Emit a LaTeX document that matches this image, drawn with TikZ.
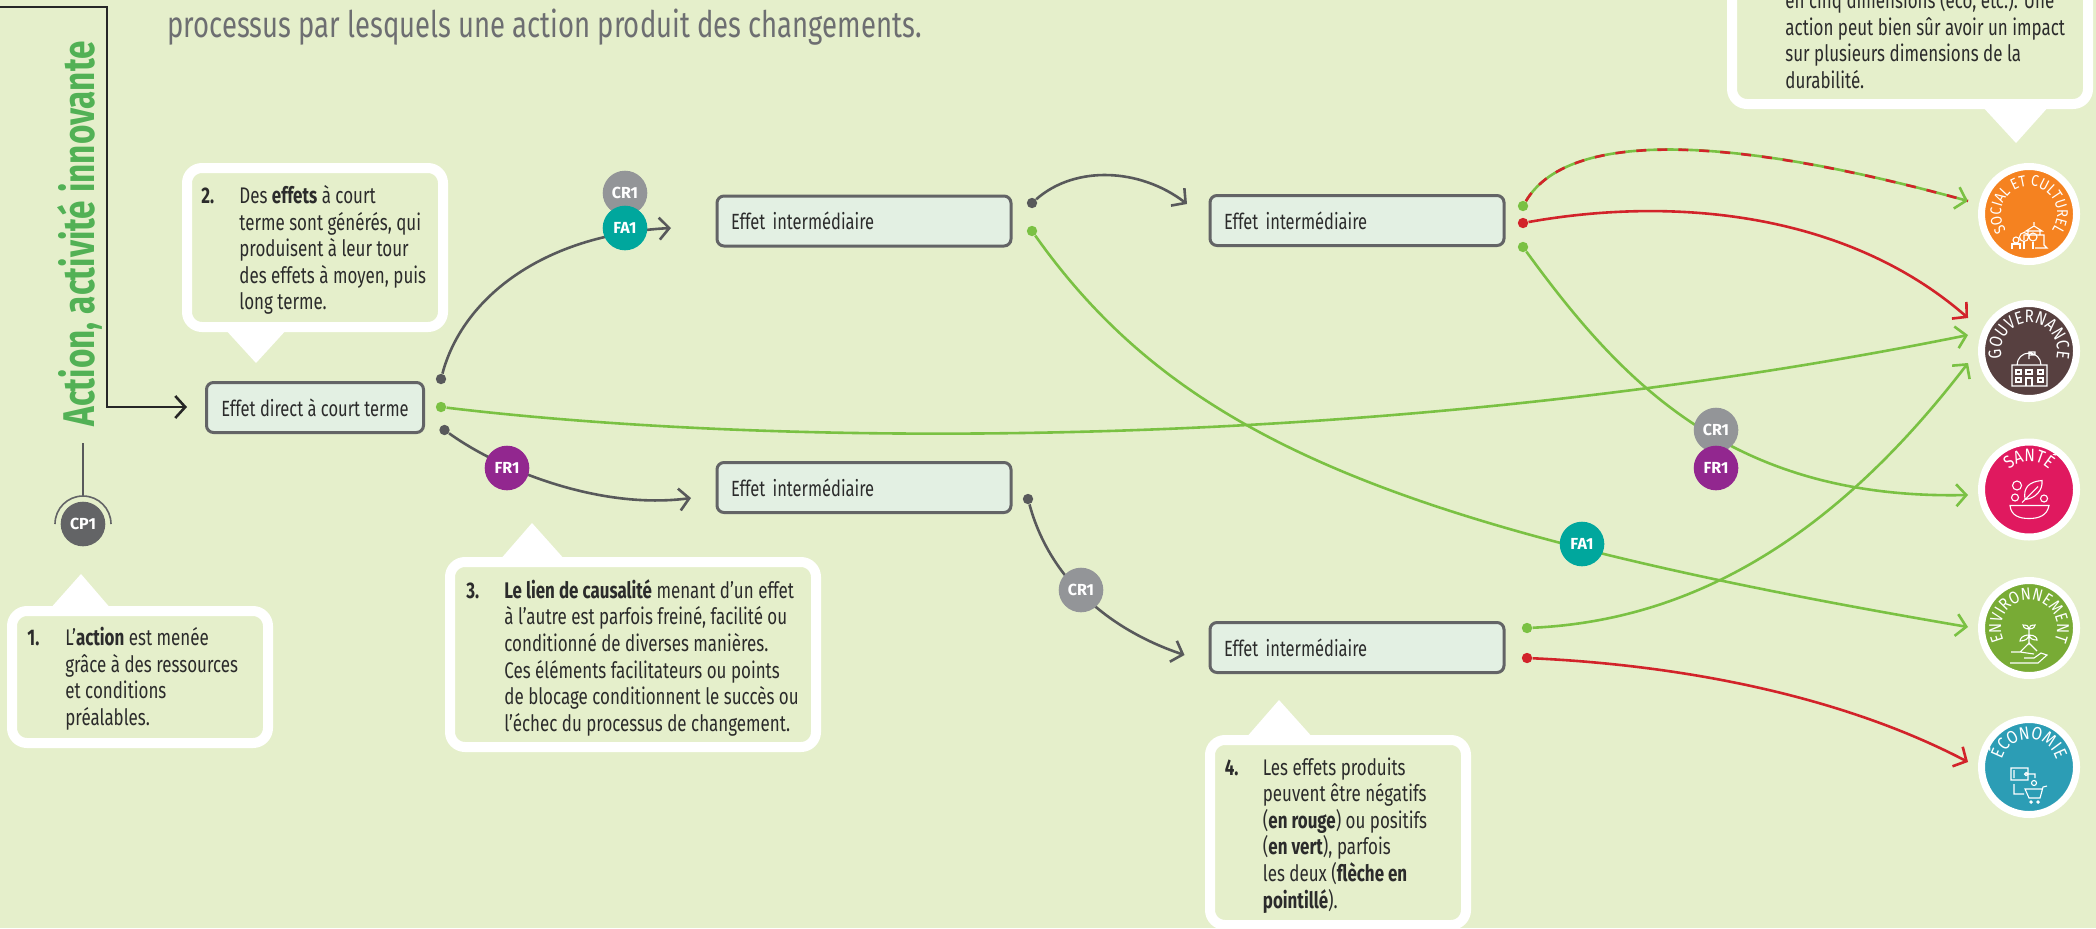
\documentclass[tikz,border=0pt]{standalone}
\usepackage{fontspec}
\setmainfont[FakeStretch=0.75]{Fira Sans}
\usetikzlibrary{arrows.meta,decorations.text}

\definecolor{bggreen}{HTML}{E5EFCB}
\definecolor{boxgreen}{HTML}{E3F0E3}
\definecolor{linegrey}{HTML}{58595B}
\definecolor{linegreen}{HTML}{7AC143}
\definecolor{linered}{HTML}{D2232A}
\definecolor{titlegrey}{HTML}{6D6E71}
\definecolor{textdark}{HTML}{2B2B2B}
\definecolor{actiongreen}{HTML}{52B155}
\definecolor{crgrey}{HTML}{939598}
\definecolor{cpgrey}{HTML}{636466}
\definecolor{fateal}{HTML}{00A79D}
\definecolor{frpurple}{HTML}{92278F}
\definecolor{socialorange}{HTML}{F58220}
\definecolor{gouvbrown}{HTML}{574040}
\definecolor{santepink}{HTML}{E0195F}
\definecolor{envirgreen}{HTML}{78AB35}
\definecolor{econblue}{HTML}{2C9DB5}

\newcommand{\numitem}[1]{\rule{0pt}{8pt}\hspace*{-19pt}\makebox[19pt][l]{\textbf{#1}}}
\newcommand{\badgetitle}[3]{\path[decorate,decoration={text along path,text align=center,text={|\fontsize{#3}{10}\selectfont\addfontfeature{FakeStretch=0.85}\color{white}|#2}}] ([shift={(270:14pt)}]#1.center) arc (270:-90:14pt);}

\tikzset{
	effetbox/.style={rectangle,rounded corners=3.5pt,draw=cpgrey,fill=boxgreen,line width=1.5pt,minimum width=108.5pt,minimum height=25pt,inner sep=0pt,text=textdark,font=\fontsize{11}{13}\selectfont},
	effetlong/.style={effetbox,minimum width=147pt,text width=133pt,align=left},
	callframe/.style={rectangle,rounded corners=7.5pt,draw=white,fill=bggreen,line width=5pt,inner sep=0pt},
	calltext/.style={anchor=north west,align=left,inner sep=0pt,text=textdark,font=\fontsize{11.3}{13.3}\selectfont},
	marker/.style={circle,fill=#1,minimum size=22.3pt,inner sep=0pt,text=white,font=\fontsize{8}{9}\selectfont\bfseries\addfontfeature{FakeStretch=1}},
	dotnode/.style={circle,fill=#1,minimum size=5.2pt,inner sep=0pt},
	badgeround/.style={circle,fill=#1,draw=white,line width=3.5pt,minimum size=47.5pt,inner sep=0pt},
	linkgrey/.style={draw=linegrey,line width=1.3pt},
	linkgreen/.style={draw=linegreen,line width=1.3pt},
	linkred/.style={draw=linered,line width=1.3pt},
	tipped/.style={-{Straight Barb[length=5pt,width=11pt,line width=1.3pt]}},
	icon/.style={draw=white,line width=0.55pt}
}

\begin{document}
\begin{tikzpicture}[x=0.5pt,y=-0.5pt]
\useasboundingbox (0,0) rectangle (2096,928);
\clip (0,0) rectangle (2096,928);
\fill[bggreen] (0,0) rectangle (2096,928);

\node[anchor=base west,inner sep=0pt,text=titlegrey,font=\fontsize{18.3}{20}\selectfont] (title) at (167,37) {processus par lesquels une action produit des changements.};

\fill[white] (49,610) -- (81,574) -- (112,610) -- cycle;
\fill[white] (224,328) -- (256,363) -- (288,328) -- cycle;
\fill[white] (499,561) -- (532,523) -- (566,561) -- cycle;
\fill[white] (1245,739) -- (1279,700) -- (1314,739) -- cycle;
\fill[white] (1981,105) -- (2016,143) -- (2050,105) -- cycle;

\node[callframe,minimum width=128pt,minimum height=66pt] (framea) at (140,677) {};
\node[callframe,minimum width=128pt,minimum height=79.5pt] (frameb) at (315,247.5) {};
\node[callframe,minimum width=183pt,minimum height=92.5pt] (framec) at (633,654.5) {};
\node[callframe,minimum width=128pt,minimum height=92.5pt] (framed) at (1338,832.5) {};
\node[callframe,minimum width=178pt,minimum height=74.5pt] (framee) at (1910,29.5) {};

\node[calltext] (texta) at (65,627) {\numitem{1.}L’\textbf{action} est menée\\grâce à des ressources\\et conditions\\préalables.};
\node[calltext] (textb) at (239,185) {\numitem{2.}Des \textbf{effets} à court\\terme sont générés, qui\\produisent à leur tour\\des effets à moyen, puis\\long terme.};
\node[calltext] (textc) at (504,579) {\numitem{3.}\textbf{Le lien de causalité} menant d’un effet\\à l’autre est parfois freiné, facilité ou\\conditionné de diverses manières.\\Ces éléments facilitateurs ou points\\de blocage conditionnent le succès ou\\l’échec du processus de changement.};
\node[calltext] (textd) at (1262.5,757) {\numitem{4.}Les effets produits\\peuvent être négatifs\\(\textbf{en rouge}) ou positifs\\(\textbf{en vert}), parfois\\les deux (\textbf{flèche en}\\\textbf{pointillé}).};
\node[calltext] (texte) at (1785,-11) {\rule{0pt}{8pt}en cinq dimensions (éco, etc.). Une\\action peut bien sûr avoir un impact\\sur plusieurs dimensions de la\\durabilité.};

\node[anchor=base west,rotate=90,inner sep=0pt,text=actiongreen,font=\fontsize{22.2}{24}\selectfont\bfseries] (action) at (94,427) {Action, activité innovante};

\node[effetbox] (direct) at (315,407.5) {Effet direct à court terme};
\node[effetlong] (effeta) at (864,221) {Effet intermédiaire};
\node[effetlong] (effetb) at (1357,220.5) {Effet intermédiaire};
\node[effetlong] (effetc) at (864,487.5) {Effet intermédiaire};
\node[effetlong] (effetd) at (1357,647.5) {Effet intermédiaire};

\node[badgeround=socialorange] (social) at (2029,214) {};
\node[badgeround=gouvbrown] (gouv) at (2029,351) {};
\node[badgeround=santepink] (sante) at (2029,489.5) {};
\node[badgeround=envirgreen] (envir) at (2029,628) {};
\node[badgeround=econblue] (econ) at (2029,767) {};

\badgetitle{social}{SOCIAL ET CULTUREL}{7.8}
\badgetitle{gouv}{GOUVERNANCE}{9}
\badgetitle{sante}{SANTÉ}{9}
\badgetitle{envir}{ENVIRONNEMENT}{8.6}
\badgetitle{econ}{ÉCONOMIE}{9}

\begin{scope}[shift={(social.center)},x=0.5pt,y=0.5pt]
	\draw[icon] (5,-8) -- (5,-11) (-3,-17) -- (5,-12) -- (13,-17) -- cycle (-1,-17) rectangle (11,-21) (-5,-26) -- (-5,-21) -- (15,-21) -- (15,-31) -- (18,-34) -- (6,-34);
	\draw[icon] (-13,-26) circle (3) (-5,-23) circle (4.5) (4,-23) circle (4);
	\draw[icon] (-17,-35) -- (-17,-30) -- (-9,-30) -- (-9,-35) (-5,-28) -- (-5,-35) (4,-28) -- (4,-35);
\end{scope}
\begin{scope}[shift={(gouv.center)},x=0.5pt,y=0.5pt]
	\draw[icon] (-17,-14) rectangle (18,-35) (-12,-14) arc (180:0:12) (0,-2) -- (0,-8) (0,-1) rectangle (6,-4);
	\draw[icon] (-13,-19) rectangle (-8,-23) (-13,-27) rectangle (-8,-31) (9,-19) rectangle (14,-23) (9,-27) rectangle (14,-31) (-3,-19) rectangle (3,-23) (-3,-35) -- (-3,-27) -- (3,-27) -- (3,-35);
\end{scope}
\begin{scope}[shift={(sante.center)},x=0.5pt,y=0.5pt]
	\draw[icon] (-19,-16) -- (20,-16) .. controls (18,-26) and (10,-29) .. (0,-29) .. controls (-10,-29) and (-18,-26) .. (-19,-16) -- cycle;
	\draw[icon] (-7,-13) -- (9,3) (-4,-10) .. controls (-6,2) and (0,8) .. (13,9) .. controls (14,-1) and (6,-9) .. (-4,-10);
	\draw[icon] (-12,4) circle (4.5) (-14,-8) circle (3.5) (15,-9) circle (3.5);
\end{scope}
\begin{scope}[shift={(envir.center)},x=0.5pt,y=0.5pt]
	\draw[icon] (0,-17) -- (0,-1) (0,-7) .. controls (-7,-7) and (-9,-11) .. (-9,-13) .. controls (-4,-13) and (-1,-11) .. (0,-7) (0,-1) .. controls (-5,-1) and (-6,2) .. (-6,3) .. controls (-2,3) and (0,2) .. (0,-1) (0,-1) .. controls (5,-1) and (6,2) .. (6,3) .. controls (2,3) and (0,2) .. (0,-1) (0,-7) .. controls (6,-7) and (8,-10) .. (8,-12) .. controls (4,-12) and (1,-11) .. (0,-7);
	\draw[icon] (-9,-24) -- (0,-15) -- (8,-23) (-19,-35) -- (9,-35) -- (18,-27) -- (12,-25) -- (5,-30) -- (-5,-30) (-9,-24) -- (-18,-24) (5,-26) -- (-9,-24);
\end{scope}
\begin{scope}[shift={(econ.center)},x=0.5pt,y=0.5pt]
	\draw[icon] (-18,-1) rectangle (-1,-13) (-15,-3) -- (-15,-11) (-3,-7) circle (1.5) (-1,-7) -- (6,-7) -- (6,-11);
	\draw[icon] (5,-16) circle (2.5) (-15,-17) -- (-15,-27) -- (-5,-27);
	\draw[icon] (18,-19) -- (14,-20) -- (11,-31) -- (0,-31) -- (-4,-22) -- (13,-22) (2,-35) circle (1.2) (9,-35) circle (1.2);
\end{scope}

\coordinate (actionhead) at (187,407);
\coordinate (actioncorner) at (107,407);
\coordinate (actionstart) at (0,7);
\coordinate (stemtop) at (83,443);
\coordinate (stembot) at (83,497);
\coordinate (tipa) at (671,228);
\coordinate (tipb) at (691,498);
\coordinate (tipc) at (1187,204);
\coordinate (tipd) at (1184.5,655);
\coordinate (tipsocial) at (1968,201);
\coordinate (tipgouva) at (1968,318);
\coordinate (tipgouvb) at (1968,335);
\coordinate (tipgouvc) at (1968,363);
\coordinate (tipsante) at (1968,495);
\coordinate (tipenvir) at (1968,627);
\coordinate (tipecon) at (1968,762);

\node[dotnode=linegrey] (dira) at (441,379) {};
\node[dotnode=linegreen] (dirb) at (441,407) {};
\node[dotnode=linegrey] (dirc) at (444.5,430) {};
\node[dotnode=linegrey] (effa) at (1032,203) {};
\node[dotnode=linegreen] (effb) at (1032,231) {};
\node[dotnode=linegrey] (effc) at (1028,499) {};
\node[dotnode=linegreen] (effd) at (1523,206) {};
\node[dotnode=linered] (effe) at (1523,223) {};
\node[dotnode=linegreen] (efff) at (1523,247) {};
\node[dotnode=linegreen] (effg) at (1527,628) {};
\node[dotnode=linered] (effh) at (1527,658) {};

\draw[black!85,line width=1.3pt,tipped] (actionstart) -| (actioncorner) -- (actionhead);
\draw[linkgrey,line width=0.8pt] (stemtop) -- (stembot);
\draw[linkgrey,tipped] (dira) .. controls (462,300) and (540,235) .. (tipa);
\draw[linkgrey,tipped] (dirc) .. controls (500,470) and (600,510) .. (tipb);
\draw[linkgrey,tipped] (effa) .. controls (1075,165) and (1140,168) .. (tipc);
\draw[linkgrey,tipped] (effc) .. controls (1050,580) and (1110,630) .. (tipd);
\draw[linkgreen,tipped] (dirb) .. controls (800,450) and (1400,450) .. (tipgouvb);
\draw[linkgreen,tipped] (effb) .. controls (1180,440) and (1400,530) .. (tipenvir);
\draw[linkgreen,tipped] (efff) .. controls (1620,380) and (1730,500) .. (tipsante);
\draw[linkgreen,tipped] (effg) .. controls (1700,620) and (1840,530) .. (tipgouvc);
\draw[linkgreen,tipped] (effd) .. controls (1565,135) and (1710,130) .. (tipsocial);
\draw[linkred,dash pattern=on 5pt off 5.5pt] (effd) .. controls (1565,135) and (1710,130) .. (tipsocial);
\draw[linkred,tipped] (effe) .. controls (1680,195) and (1850,215) .. (tipgouva);
\draw[linkred,tipped] (effh) .. controls (1680,665) and (1840,695) .. (tipecon);

\node[marker=cpgrey] (cpa) at (83,524) {CP1};
\draw[cpgrey,line width=0.8pt] ([shift={(0:14pt)}]cpa.center) arc[start angle=0,end angle=180,radius=14pt];
\node[marker=crgrey] (cra) at (625,193) {CR1};
\node[marker=fateal] (faa) at (625,228) {FA1};
\node[marker=frpurple] (fra) at (507,468) {FR1};
\node[marker=crgrey] (crb) at (1081,590) {CR1};
\node[marker=crgrey] (crc) at (1716,430) {CR1};
\node[marker=frpurple] (frb) at (1716,468) {FR1};
\node[marker=fateal] (fab) at (1582,544) {FA1};
\end{tikzpicture}
\end{document}
